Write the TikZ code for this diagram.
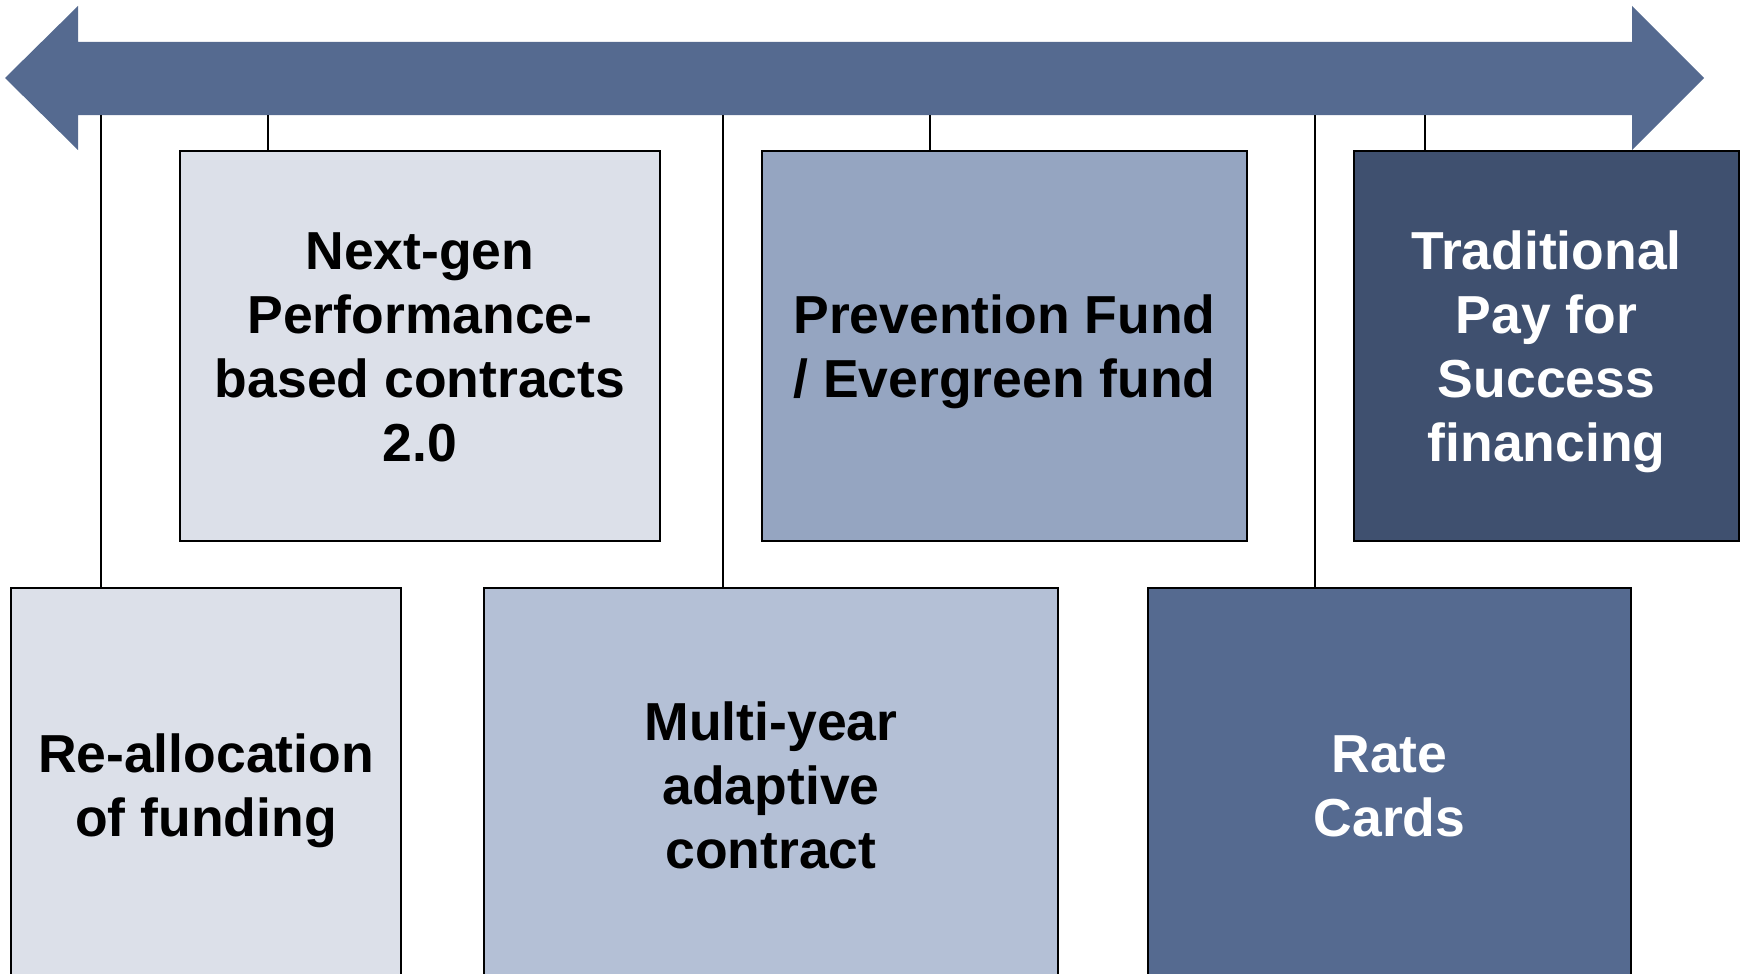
\documentclass[tikz,border=0pt]{standalone}
\usepackage{fontspec}
\setmainfont{Liberation Sans}
\definecolor{arrowblue}{HTML}{556A90}
\definecolor{palebox}{HTML}{DCE0E9}
\definecolor{midbox}{HTML}{B4C0D6}
\definecolor{prevbox}{HTML}{95A5C1}
\definecolor{ratebox}{HTML}{556A90}
\definecolor{darkbox}{HTML}{3F506F}
\newcommand{\lnstrut}{\rule[-12.2pt]{0pt}{64pt}}
\begin{document}
\begin{tikzpicture}[x=1pt,y=-1pt,
  box/.style={draw=black, line width=2.5pt, inner sep=0pt, align=center,
    font=\fontsize{53.5}{64}\selectfont\bfseries},
  link/.style={draw=black, line width=2pt}]
\useasboundingbox (0,0) rectangle (1746,974);
\clip (0,0) rectangle (1746,974);
% timeline arrow
\fill[arrowblue] (5,78) -- (78,6) -- (78,42) -- (1632,42) -- (1632,6) -- (1704,78)
  -- (1632,150) -- (1632,115) -- (78,115) -- (78,150) -- cycle;
\coordinate (t1) at (101,115);
\coordinate (t2) at (268,115);
\coordinate (t3) at (723,115);
\coordinate (t4) at (930,115);
\coordinate (t5) at (1315,115);
\coordinate (t6) at (1425,115);
% upper boxes
\node[box, fill=palebox, minimum width=480, minimum height=390] (next) at (420,346)
  {\lnstrut Next-gen\\Performance-\\based contracts\\2.0\lnstrut};
\node[box, fill=prevbox, minimum width=485, minimum height=390] (prev) at (1004.5,346)
  {\lnstrut Prevention Fund\\/ Evergreen fund\lnstrut};
\node[box, fill=darkbox, text=white, minimum width=385, minimum height=390] (trad) at (1546.5,346)
  {\lnstrut Traditional\\Pay for\\Success\\financing\lnstrut};
% lower boxes
\node[box, fill=palebox, minimum width=390, minimum height=394] (realloc) at (206,785)
  {\lnstrut Re-allocation\\of funding\lnstrut};
\node[box, fill=midbox, minimum width=574, minimum height=394] (multi) at (771,785)
  {\lnstrut Multi-year\\adaptive\\contract\lnstrut};
\node[box, fill=ratebox, text=white, minimum width=483, minimum height=394] (rate) at (1389.5,785)
  {\lnstrut Rate\\Cards\lnstrut};
% connectors
\draw[link] (t1) -- (t1 |- realloc.north);
\draw[link] (t2) -- (t2 |- next.north);
\draw[link] (t3) -- (t3 |- multi.north);
\draw[link] (t4) -- (t4 |- prev.north);
\draw[link] (t5) -- (t5 |- rate.north);
\draw[link] (t6) -- (t6 |- trad.north);
\end{tikzpicture}
\end{document}
